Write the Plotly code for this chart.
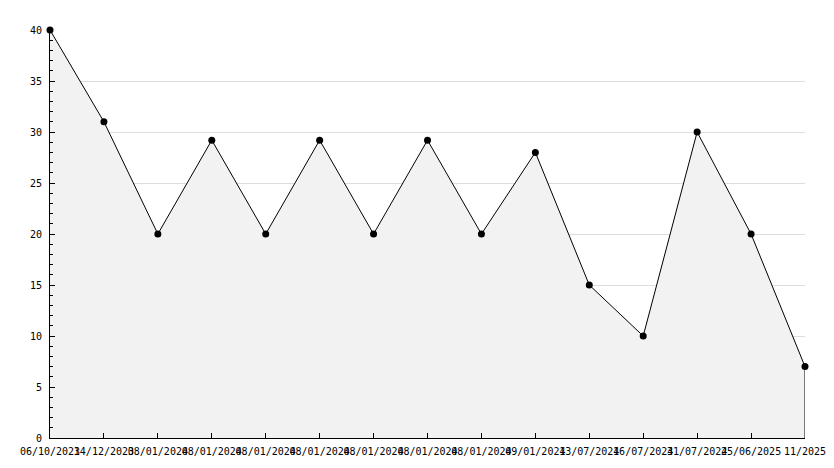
import plotly.graph_objects as go

labels = ["06/10/2023", "14/12/2023", "08/01/2024", "08/01/2024", "08/01/2024",
          "08/01/2024", "08/01/2024", "08/01/2024", "08/01/2024", "09/01/2024",
          "13/07/2024", "16/07/2024", "31/07/2024", "25/06/2025", "11/2025"]
values = [40, 31, 20, 29.2, 20, 29.2, 20, 29.2, 20, 28, 15, 10, 30, 20, 7]
y_ticks = [0, 5, 10, 15, 20, 25, 30, 35, 40]

idx = list(range(len(values)))
font = dict(family="DejaVu Sans Mono", size=10, color="#000000")

fig = go.Figure()
fig.add_trace(go.Scatter(
    x=idx, y=values, mode="lines+markers", fill="tozeroy",
    fillcolor="#f2f2f2",
    line=dict(color="#000000", width=1),
    marker=dict(color="#000000", size=7, symbol="circle"),
    hoverinfo="skip", showlegend=False, cliponaxis=False,
))
fig.add_trace(go.Scatter(
    x=[idx[-1], idx[-1]], y=[values[-1], 0], mode="lines",
    line=dict(color="#000000", width=1), hoverinfo="skip", showlegend=False,
))

fig.update_layout(
    width=834, height=468,
    margin=dict(l=42, r=37, t=22, b=38, autoexpand=False),
    paper_bgcolor="white", plot_bgcolor="white",
    font=font,
)
fig.update_xaxes(
    range=[0, len(values) - 1], tickmode="array", tickvals=idx, ticktext=labels,
    showgrid=False, zeroline=False,
    showline=True, linecolor="#000000", linewidth=1,
    ticks="inside", ticklen=5, tickcolor="#000000", tickangle=0,
    tickfont=font, automargin=False, ticklabelstandoff=4,
)
fig.update_yaxes(
    range=[0, 40], tickmode="array", tickvals=y_ticks,
    showgrid=True, gridcolor="#dddddd", gridwidth=1, zeroline=False,
    showline=True, linecolor="#000000", linewidth=1,
    ticks="inside", ticklen=5, tickcolor="#000000",
    minor=dict(dtick=1, ticks="inside", ticklen=3, tickcolor="#000000", showgrid=False),
    tickfont=font, automargin=False, ticklabelstandoff=5,
)
fig.write_html("out.html")
